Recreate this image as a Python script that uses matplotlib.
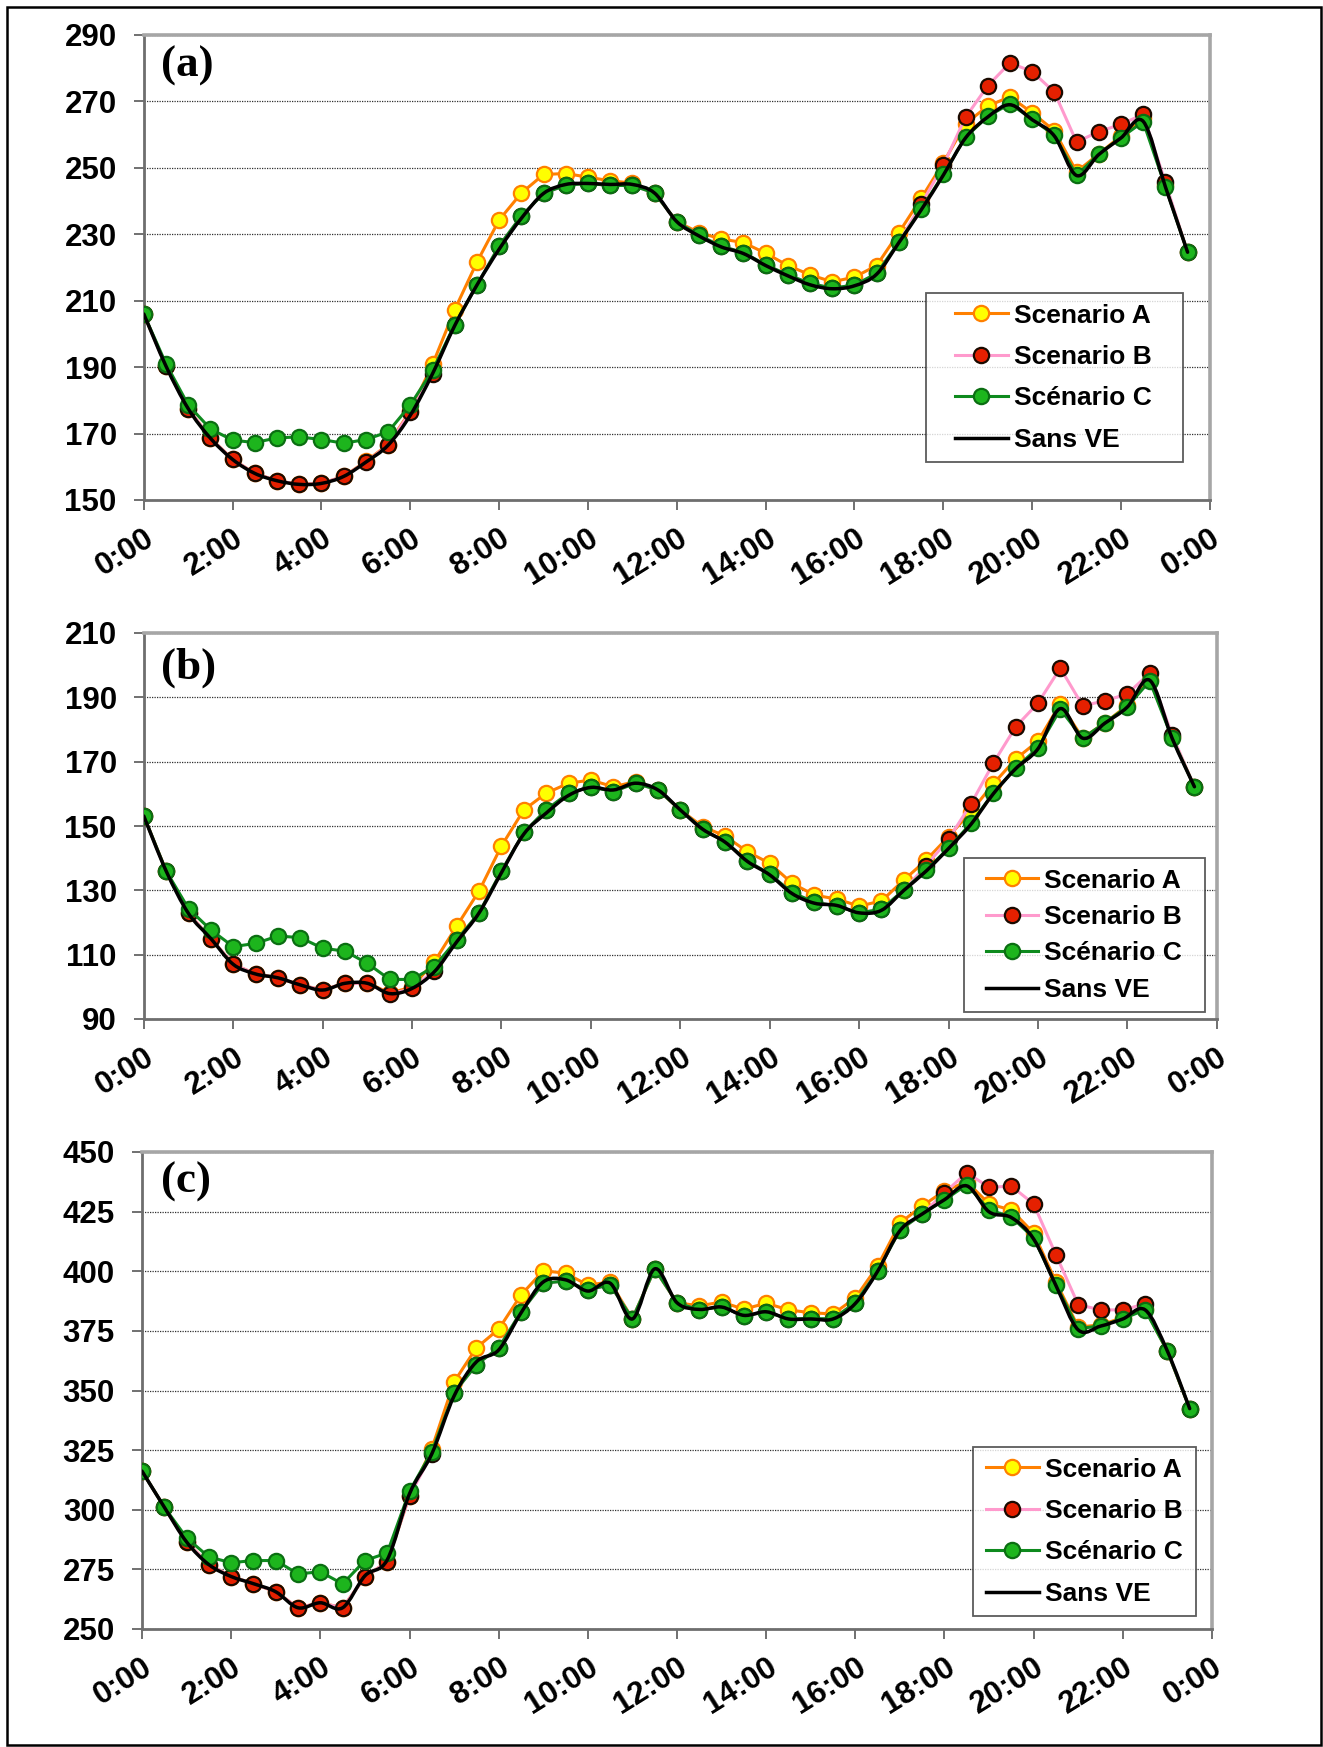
import numpy as np
import matplotlib.pyplot as plt
from matplotlib.path import Path
from matplotlib.patches import PathPatch, Rectangle
from matplotlib.lines import Line2D
from matplotlib.legend_handler import HandlerLine2D

plt.rcParams['font.family'] = ['Liberation Sans', 'DejaVu Sans']

# half-hourly points, 0:00 -> 23:30
hours = np.arange(48) * 0.5
tick_hours = list(range(0, 25, 2))
tick_labels = ['0:00', '2:00', '4:00', '6:00', '8:00', '10:00', '12:00',
               '14:00', '16:00', '18:00', '20:00', '22:00', '0:00']
series_names = ['Scenario A', 'Scenario B', 'Scénario C', 'Sans VE']

# ---- (a)
a_scen_a = [206, 190.3, 177.5, 168.6, 162.2, 158, 155.8, 154.7, 155, 157.1, 161.6, 166.7, 176.8, 190.8,
            207.3, 221.6, 234.3, 242.4, 248, 248.3, 247.2, 246.1, 245.4, 242.4, 233.8, 230.5, 228.6, 227.5,
            224.3, 220.6, 217.8, 215.7, 217.1, 220.6, 230.5, 240.8, 251.5, 263.3, 268.6, 271.4, 266.6, 261.2,
            248.8, 254.2, 259.6, 265, 244.8, 224.6]
a_scen_b = [206, 190.3, 177.5, 168.6, 162.2, 158, 155.8, 154.7, 155, 157.1, 161.4, 166.5, 176.5, 188,
            202.8, 214.7, 226.5, 235.5, 242.3, 244.8, 245.3, 244.7, 244.7, 242.4, 233.8, 229.7, 226.4, 224.5,
            220.8, 217.8, 215.2, 213.8, 214.7, 218.2, 227.6, 239, 250.8, 265.2, 274.7, 281.6, 279, 272.8,
            257.8, 260.9, 263.1, 266.1, 245.6, 224.6]
a_scen_c = [206, 191, 178.6, 171.4, 168, 167.3, 168.7, 169, 168.2, 167.1, 168.2, 170.5, 178.6, 189,
            202.8, 214.7, 226.5, 235.5, 242.3, 244.8, 245.3, 244.7, 244.7, 242.4, 233.8, 229.7, 226.4, 224.5,
            220.8, 217.8, 215.2, 213.8, 214.7, 218.2, 227.6, 237.5, 248, 259.2, 265.5, 269.3, 264.7, 259.8,
            247.7, 254.2, 259.1, 263.9, 244.3, 224.6]
a_sans_ve = [206, 190.3, 177.5, 168.6, 162.2, 158, 155.8, 154.7, 155, 157.1, 161.4, 166.5, 175.5, 188,
             202.5, 214.7, 225.5, 234.8, 242.3, 245, 245.3, 245, 245, 242.4, 233.8, 229.5, 226.2, 224.2,
             220.6, 217.5, 214.8, 213.6, 214.5, 218, 227.5, 237.3, 247.8, 259, 265.3, 269, 264.5, 259.6,
             247.7, 254, 259, 264, 244.3, 224.6]

# ---- (b)
b_scen_a = [153.1, 136, 122.8, 115, 107, 104, 102.8, 100.6, 99, 101.1, 101.3, 98, 100, 107.8,
            118.9, 129.8, 143.8, 155, 160.2, 163.3, 164.3, 162.2, 163.8, 161.2, 155, 149.8, 146.9, 142,
            138.4, 132.2, 128.5, 127.3, 125.1, 126.7, 133.2, 139.4, 146.7, 154.5, 163.1, 170.8, 176.4, 188,
            177.3, 182.1, 187.5, 195.5, 177.8, 162.2]
b_scen_b = [153.1, 136, 122.8, 115, 107, 104, 102.8, 100.6, 99, 101.1, 101.1, 97.7, 99.5, 105,
            114.6, 123, 136, 148, 155, 160.2, 162.2, 160.7, 163.3, 161.2, 155, 149, 145.1, 139.2,
            135, 129.3, 126.3, 125.1, 123, 124.1, 130.1, 137.7, 145.9, 156.8, 169.5, 180.8, 188.2, 199.1,
            187.4, 188.9, 191.1, 197.5, 178.3, 162.2]
b_scen_c = [153.1, 136, 124.3, 117.7, 112.5, 113.5, 115.8, 115.3, 112, 111.1, 107.3, 102.3, 102.3, 106.3,
            114.6, 123, 136, 148, 155, 160.2, 162.2, 160.7, 163.3, 161.2, 155, 149, 145.1, 139.2,
            135, 129.3, 126.3, 125.1, 123, 124.1, 130.1, 136.3, 143.1, 150.8, 160.2, 168, 174.3, 186.3,
            177.3, 182.1, 187.1, 195.1, 177.3, 162.2]
b_sans_ve = [153.1, 136, 122.8, 115, 107, 104, 102.8, 100.6, 99, 101.1, 101.1, 97.9, 99.5, 104.7,
             114, 123, 135.5, 147.5, 154, 159.5, 162, 161.2, 163.3, 161.2, 155, 149, 145, 139,
             134.8, 129, 126, 125.3, 123, 123.8, 130, 136, 143, 150.5, 160, 167.8, 174, 186.5,
             177.3, 182, 187, 195.3, 177.3, 162.2]

# ---- (c)
c_scen_a = [316.2, 301.1, 286.5, 277, 272, 269, 265.6, 258.9, 261, 258.9, 271.8, 278.2, 305.8, 325.6,
            353.6, 367.9, 375.7, 390, 400.2, 399.2, 394.2, 395.5, 380.1, 401, 386.8, 385.5, 387.1, 384.1,
            386.6, 383.8, 382.6, 382.1, 388.8, 402.2, 420.2, 427.4, 433.7, 437.5, 428.2, 425.7, 416, 395.5,
            376.6, 377.5, 380.5, 384.2, 366.5, 342.4]
c_scen_b = [316.2, 301.1, 286.5, 277, 272, 269, 265.6, 258.9, 261, 258.9, 271.8, 278.2, 305.8, 323.4,
            349.1, 360.8, 367.9, 382.9, 395, 395.9, 392.2, 394.3, 380.1, 401, 386.8, 383.8, 385.1, 381.3,
            382.9, 380.1, 380.1, 380.1, 386.8, 400, 417.3, 424, 432.9, 441.3, 435.2, 435.7, 428.2, 406.9,
            386, 383.8, 383.8, 386.3, 366.5, 342.4]
c_scen_c = [316.2, 301.1, 288.2, 280.2, 277.8, 278.7, 278.7, 273.1, 274, 268.9, 278.7, 281.9, 307.8, 324.3,
            349.1, 360.8, 367.9, 382.9, 395, 395.9, 392.2, 394.3, 380.1, 401, 386.8, 383.8, 385.1, 381.3,
            382.9, 380.1, 380.1, 380.1, 386.8, 400, 417.3, 424, 429.9, 436.3, 425.7, 422.8, 414, 394.3,
            375.9, 377.1, 380.1, 383.8, 366.5, 342.4]
c_sans_ve = [316.2, 301.1, 286.5, 277, 272, 269, 265.6, 258.9, 261, 258.9, 272.3, 279, 306.7, 323.4,
             347.7, 362, 367, 382.5, 395.5, 396.4, 391.7, 395, 380, 401, 386.8, 384, 385, 381.5,
             383, 380, 380, 380, 386.5, 400, 417, 424, 430, 435.8, 424.9, 422.5, 413.5, 394,
             375.4, 377, 380, 383.8, 366.5, 342.4]

W, H = 1323, 1747


def smooth_path(x, y):
    # cubic Bezier through every point (Catmull-Rom tangents), like a smoothed line
    x = np.asarray(x, float)
    y = np.asarray(y, float)
    pts = np.column_stack([x, y])
    n = len(pts)
    verts = [pts[0]]
    codes = [Path.MOVETO]
    for i in range(n - 1):
        p0 = pts[max(i - 1, 0)]
        p1 = pts[i]
        p2 = pts[i + 1]
        p3 = pts[min(i + 2, n - 1)]
        c1 = p1 + (p2 - p0) / 6.0
        c2 = p2 - (p3 - p1) / 6.0
        verts += [c1, c2, p2]
        codes += [Path.CURVE4] * 3
    return Path(verts, codes)


style_a = dict(color='#FF8000', lw=2.2, marker='o', ms=11, mfc='#FFFF00', mec='#FF8000', mew=1.6)
style_b = dict(color='#FF9ACD', lw=2.2, marker='o', ms=11, mfc='#E52000', mec='#1A0A00', mew=1.6)
style_c = dict(color='#0E8A1E', lw=2.2, marker='o', ms=11, mfc='#1DB51D', mec='#0B6E12', mew=1.6)


def draw_panel(ax, sa, sb, sc, ref, ylo, yhi, ystep, letter, letter_top, leg_box, leg_pad, leg_gap):
    ax.plot(hours, sa, zorder=3, **style_a)
    ax.plot(hours, sb, zorder=4, **style_b)
    ax.plot(hours, sc, zorder=5, **style_c)
    ax.add_patch(PathPatch(smooth_path(hours, ref), fill=False, edgecolor='black',
                           lw=2.5, zorder=6, capstyle='round', joinstyle='round'))

    ax.set_xlim(0, 24)
    ax.set_ylim(ylo, yhi)
    ax.set_yticks(np.arange(ylo, yhi + 1, ystep))
    ax.set_xticks(tick_hours)
    ax.set_xticklabels(tick_labels, rotation=32, ha='right', va='top',
                       rotation_mode='anchor')
    ax.tick_params(axis='both', direction='out', length=7.5, width=1.4, color='#707070',
                   labelsize=22.5)
    ax.tick_params(axis='x', pad=9)
    ax.tick_params(axis='y', pad=12)
    for lab in ax.get_xticklabels() + ax.get_yticklabels():
        lab.set_fontweight('bold')

    ax.yaxis.grid(True, linestyle=(0, (1, 1)), color='#303030', lw=0.9)
    ax.set_axisbelow(True)
    for side in ['top', 'right']:
        ax.spines[side].set_color('#A6A6A6')
        ax.spines[side].set_linewidth(2.6)
    for side in ['left', 'bottom']:
        ax.spines[side].set_color('#6E6E6E')
        ax.spines[side].set_linewidth(2.0)

    fig.text(161 / W, 1 - letter_top / H, letter, ha='left', va='top',
             fontsize=32.5, fontweight='bold', family='Liberation Serif')

    # legend box given in figure pixels: left, top, right
    x0, y0, x1 = leg_box
    pos = ax.get_position()
    bx = (x0 / W - pos.x0) / pos.width
    bw = (x1 - x0) / W / pos.width
    by = ((1 - y0 / H) - pos.y0) / pos.height
    handles = [Line2D([], [], **style_a), Line2D([], [], **style_b),
               Line2D([], [], **style_c), Line2D([], [], color='black', lw=2.5)]
    leg = ax.legend(handles, series_names, loc='upper left', bbox_to_anchor=(bx, 0, bw, by),
                    mode='expand', borderaxespad=0, frameon=True, fancybox=False, shadow=False,
                    prop={'size': 19, 'weight': 'bold'}, handlelength=2.0 + leg_pad,
                    handletextpad=0.22, labelspacing=leg_gap, borderpad=0.4,
                    handler_map={Line2D: HandlerLine2D(xpad=leg_pad)})
    leg.get_frame().set_edgecolor('#333333')
    leg.get_frame().set_linewidth(1.3)
    leg.set_zorder(10)


fig = plt.figure(figsize=(W / 100, H / 100), dpi=100)
ax_a = fig.add_axes([143.8 / W, 1 - 500 / H, 1066 / W, 465 / H])
ax_b = fig.add_axes([143.8 / W, 1 - 1019 / H, 1073 / W, 386 / H])
ax_c = fig.add_axes([142 / W, 1 - 1629 / H, 1070 / W, 477 / H])

draw_panel(ax_a, a_scen_a, a_scen_b, a_scen_c, a_sans_ve, 150, 290, 20, '(a)', 46,
           (926, 293, 1183), 0.70, 0.66)
draw_panel(ax_b, b_scen_a, b_scen_b, b_scen_c, b_sans_ve, 90, 210, 20, '(b)', 648,
           (964, 858, 1205), 0.42, 0.47)
draw_panel(ax_c, c_scen_a, c_scen_b, c_scen_c, c_sans_ve, 250, 450, 25, '(c)', 1162,
           (973, 1447, 1196), 0.09, 0.66)

# outer frame round the whole figure
fig.add_artist(Rectangle((6.5 / W, 2 / H), 1314 / W, 1738.5 / H,
                         transform=fig.transFigure, fill=False, edgecolor='black', lw=1.8))

fig.savefig('out.png', dpi=100)
